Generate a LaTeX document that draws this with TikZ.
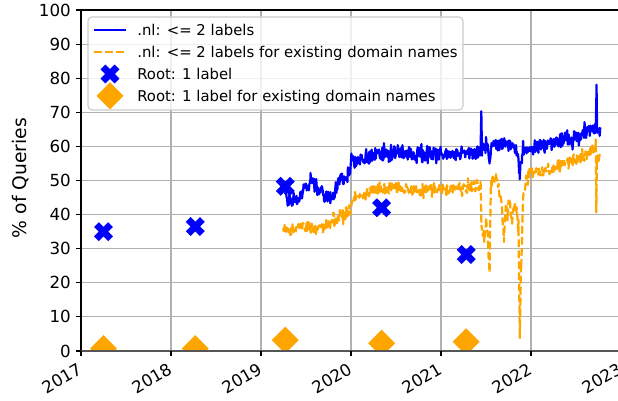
\documentclass[tikz,border=0pt]{standalone}
\usepackage{fontspec}
\setmainfont{DejaVu Sans}
\definecolor{mplorange}{HTML}{FFA500}
\definecolor{gridgray}{HTML}{B0B0B0}
\definecolor{legedge}{HTML}{CCCCCC}
\definecolor{botspine}{HTML}{555555}
\newcommand\drawXmarker[1]{\fill[blue,shift={#1},x=0.72pt,y=0.72pt,rotate=45] (-3.4,10)--(3.4,10)--(3.4,3.4)--(10,3.4)--(10,-3.4)--(3.4,-3.4)--(3.4,-10)--(-3.4,-10)--(-3.4,-3.4)--(-10,-3.4)--(-10,3.4)--(-3.4,3.4)--cycle;}
\newcommand\drawDmarker[1]{\fill[mplorange,shift={#1},x=0.72pt,y=0.72pt] (0,13.5)--(13.5,0)--(0,-13.5)--(-13.5,0)--cycle;}
\begin{document}
\begin{tikzpicture}[x=0.72pt,y=0.72pt,
  font=\fontsize{12}{14}\selectfont,
  ytick/.style={anchor=east,inner sep=0pt},
  xtick/.style={anchor=north east,inner sep=0pt,rotate=30},
  blueline/.style={draw=blue,line width=1.6pt,line join=round},
  orangeline/.style={draw=mplorange,line width=1.6pt,dash pattern=on 5.55pt off 2.4pt,line join=round},
  gridline/.style={draw=gridgray,line width=0.8pt},
  tickline/.style={draw=black,line width=0.8pt},
  legtext/.style={anchor=base west,inner sep=0pt,font=\fontsize{10.7}{12}\selectfont}]
\useasboundingbox (0,0) rectangle (618,401);
\pgfmathsetseed{11}
% data area
\begin{scope}[shift={(81,50)},x=64.8pt,y=2.4552pt]
  \foreach \yr in {1,...,5} \draw[gridline] (\yr,0) -- (\yr,100);
  \foreach \v in {10,20,...,90} \draw[gridline] (0,\v) -- (6,\v);
  \begin{scope}
    \clip (0,0) rectangle (6,100);
    % blue series
    \draw[blueline] (2.27,46)
      \foreach \xb/\yb [remember=\xb as \xa (initially 2.27), remember=\yb as \ya (initially 46),
        evaluate=\xb as \ns using {int(max(2,180*(\xb-\xa)))}] in
       {2.31/44, 2.35/43.5, 2.45/46, 2.55/49.5, 2.62/48, 2.70/46, 2.77/44.5, 2.85/48.5, 2.90/51,
        2.99/51.5, 3.005/56, 3.1/56.5, 3.2/57, 3.3/58, 3.45/58, 3.6/58.5, 3.8/57.5, 4.0/58, 4.2/57.5,
        4.35/58, 4.44/58.5, 4.448/70.5, 4.456/59, 4.52/60, 4.54/55, 4.56/60.5, 4.65/61, 4.75/60,
        4.84/58.5, 4.875/52, 4.9/58, 4.95/59, 5.1/60, 5.3/61.5, 5.45/62.5, 5.6/64, 5.72/65.5,
        5.728/77.5, 5.735/66, 5.77/64}
      { -- plot[domain=\xa:\xb, samples=\ns] (\x, {\ya+(\yb-\ya)*(\x-\xa)/(\xb-\xa) + 1.9*rand + 3.2*rand*rand*rand}) };
    % orange series
    \draw[orangeline] (2.25,35)
      \foreach \xb/\yb [remember=\xb as \xa (initially 2.25), remember=\yb as \ya (initially 35),
        evaluate=\xb as \ns using {int(max(2,180*(\xb-\xa)))}] in
       {2.35/35.5, 2.5/36.5, 2.6/36, 2.72/36.5, 2.82/38.5, 2.92/40, 2.99/41, 3.005/44.5, 3.15/46,
        3.3/47.5, 3.5/47.5, 3.7/47, 3.9/47.5, 4.1/47.5, 4.3/48, 4.42/48.5, 4.44/48, 4.45/36, 4.48/34,
        4.50/38, 4.52/33, 4.54/22, 4.545/34, 4.555/49, 4.58/50, 4.61/51, 4.64/48, 4.67/44, 4.70/34,
        4.72/42, 4.74/40, 4.76/44, 4.79/38, 4.81/43, 4.84/41, 4.86/36, 4.875/5.5, 4.89/25, 4.91/44,
        4.94/49, 4.99/52, 5.1/52.5, 5.25/53.5, 5.4/55.5, 5.55/56.5, 5.65/58, 5.72/60, 5.726/41,
        5.732/56, 5.77/57.5}
      { -- plot[domain=\xa:\xb, samples=\ns] (\x, {\ya+(\yb-\ya)*(\x-\xa)/(\xb-\xa) + 1.5*rand + 2.8*rand*rand*rand}) };
    % markers
    \drawXmarker{(0.25,35)}
    \drawXmarker{(1.27,36.5)}
    \drawXmarker{(2.27,48.3)}
    \drawXmarker{(3.34,42)}
    \drawXmarker{(4.28,28.3)}
    \drawDmarker{(0.25,0.7)}
    \drawDmarker{(1.27,0.7)}
    \drawDmarker{(2.27,3.2)}
    \drawDmarker{(3.34,2.3)}
    \drawDmarker{(4.28,2.7)}
  \end{scope}
\end{scope}
% spines
\draw[black,line width=0.8pt] (81,50) -- (81,391);
\draw[black,line width=1pt] (81,391) -- (621,391);
\draw[botspine,line width=1.3pt] (81,50) -- (621,50);
% y ticks
\foreach \v in {0,10,...,100} {
  \draw[tickline] (76.1,{50+3.41*\v}) -- (81,{50+3.41*\v});
  \node[ytick] (yt\v) at (71,{50+3.41*\v}) {\v};
}
% x ticks
\foreach \yr [count=\i from 0] in {2017,...,2023} {
  \draw[tickline] ({81+90*\i},50) -- ({81+90*\i},45.1);
  \node[xtick] (xt\yr) at ({81+90*\i-4},39) {\yr};
}
% axis label
\node[rotate=90,font=\fontsize{13.5}{15}\selectfont] (ylab) at (21,223) {\% of Queries};
% legend
\draw[draw=legedge,fill=white,fill opacity=0.8,rounded corners=3pt,line width=0.8pt] (88,291) rectangle (463,384);
\coordinate (h1a) at (94,371); \coordinate (h1b) at (126,371);
\coordinate (h2a) at (94,349); \coordinate (h2b) at (126,349);
\draw[blueline] (h1a) -- (h1b);
\draw[orangeline] (h2a) -- (h2b);
\drawXmarker{(110,327)}
\drawDmarker{(110,305)}
\node[legtext] (l1) at (137,365.5) {.nl: <= 2 labels};
\node[legtext] (l2) at (137,343.5) {.nl: <= 2 labels for existing domain names};
\node[legtext] (l3) at (137,321.5) {Root: 1 label};
\node[legtext] (l4) at (137,299.5) {Root: 1 label for existing domain names};
\end{tikzpicture}
\end{document}
